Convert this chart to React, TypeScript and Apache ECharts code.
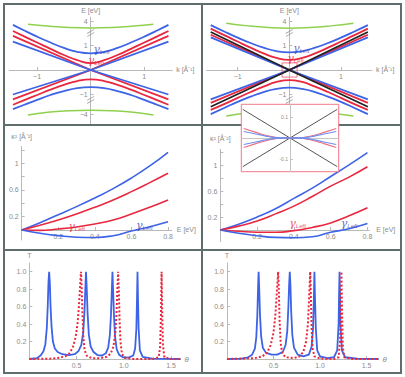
import { useEffect, useRef } from 'react';
import * as echarts from 'echarts';

// ---------- Panel 1 (top-left): E(k) ----------
const kP1 = [-1.45, -1.25, -1, -0.75, -0.5, -0.25, 0, 0.25, 0.5, 0.75, 1, 1.25, 1.45];
const p1BlueGapUp = [1.84, 1.62, 1.36, 1.12, 0.9, 0.74, 0.68, 0.74, 0.9, 1.12, 1.36, 1.62, 1.84];
const p1RedGapUp = [1.59, 1.38, 1.12, 0.86, 0.61, 0.4, 0.28, 0.4, 0.61, 0.86, 1.12, 1.38, 1.59];
const p1BlueGapDn = [-1.6, -1.43, -1.22, -1.02, -0.86, -0.74, -0.7, -0.74, -0.86, -1.02, -1.22, -1.43, -1.6];
const p1RedGapDn = [-1.42, -1.24, -1.02, -0.8, -0.61, -0.45, -0.38, -0.45, -0.61, -0.8, -1.02, -1.24, -1.42];
const kXP1 = [-1.45, 0, 1.45];
const p1RedXDesc = [1.39, 0, -1.2];
const p1RedXAsc = [-1.2, 0, 1.39];
const p1BlueXDesc = [1.16, 0, -1.0];
const p1BlueXAsc = [-1.0, 0, 1.16];
const kGreenP1 = [-1.17, -0.8, -0.4, 0, 0.4, 0.8, 1.17];
const p1GreenUp = [1.87, 1.79, 1.73, 1.71, 1.73, 1.79, 1.87];
const p1GreenDn = [-1.84, -1.72, -1.66, -1.64, -1.66, -1.72, -1.84];

// ---------- Panel 2 (top-right): E(k) with black bands ----------
const kP2 = [-1.52, -1.25, -1, -0.75, -0.5, -0.25, 0, 0.25, 0.5, 0.75, 1, 1.25, 1.52];
const p2BlueGapUp = [1.83, 1.56, 1.32, 1.1, 0.91, 0.77, 0.72, 0.77, 0.91, 1.1, 1.32, 1.56, 1.83];
const p2RedGapUp = [1.69, 1.41, 1.16, 0.91, 0.68, 0.49, 0.41, 0.49, 0.68, 0.91, 1.16, 1.41, 1.69];
const p2BlueGapDn = [-1.8, -1.54, -1.3, -1.09, -0.9, -0.77, -0.72, -0.77, -0.9, -1.09, -1.3, -1.54, -1.8];
const p2RedGapDn = [-1.63, -1.38, -1.14, -0.9, -0.68, -0.49, -0.41, -0.49, -0.68, -0.9, -1.14, -1.38, -1.63];
const kXP2 = [-1.52, 0, 1.52];
const p2BlackXDesc = [1.55, 0, -1.5];
const p2BlackXAsc = [-1.5, 0, 1.55];
const p2RedXDesc = [1.44, 0, -1.34];
const p2RedXAsc = [-1.34, 0, 1.44];
const p2BlueXDesc = [1.33, 0, -1.2];
const p2BlueXAsc = [-1.2, 0, 1.33];
const kGreenP2 = [-1.22, -0.8, -0.4, 0, 0.4, 0.8, 1.24];
const p2GreenUp = [1.91, 1.8, 1.73, 1.7, 1.73, 1.8, 1.91];
const p2GreenDn = [-1.88, -1.76, -1.68, -1.66, -1.68, -1.76, -1.88];
const p2ZoomBox = [[-0.14, 0.29], [0.15, -0.29]];

// broken-axis ticks for panels 1 and 2 (panel 2's lowest label is hidden by the inset)
const p1YTickPos = [1.98, 1, -1, -1.81];
const p1YTickText = ['4', '1', '−1', '−4'];
const p2YTickPos = [1.98, 1, -1];
const p2YTickText = ['4', '1', '−1'];
const kXTickPos = [-1, 1];
const kXTickText = ['−1', '1'];
const breakE = [1.51, -1.22];

// ---------- Inset (zoom of panel 2 centre) ----------
const insetX = [-0.95, -0.7, -0.5, -0.35, -0.2, 0, 0.2, 0.35, 0.5, 0.7, 0.95];
const insetRedDesc = [0.045, 0.027, 0.013, 0.005, 0.001, 0, -0.001, -0.005, -0.013, -0.027, -0.045];
const insetBlueDesc = [0.031, 0.019, 0.009, 0.003, 0.0005, 0, -0.0005, -0.003, -0.009, -0.019, -0.031];
const insetBlackX = [-0.97, 0.97];
const insetBlackDesc = [0.136, -0.136];
const insetYTickPos = [0.1, -0.1];
const insetYTickText = ['0.1', '-0.1'];

// ---------- Panels 3 & 4: kappa^2(E) ----------
const eK = [0, 0.1, 0.2, 0.3, 0.4, 0.5, 0.6, 0.7, 0.8];
const p3BlueUp = [0, 0.11, 0.23, 0.35, 0.48, 0.62, 0.78, 0.96, 1.165];
const p3RedUp = [0, 0.07, 0.15, 0.24, 0.34, 0.45, 0.575, 0.71, 0.85];
const p3RedLow = [0, -0.005, 0.015, 0.045, 0.09, 0.15, 0.24, 0.34, 0.45];
const p3BlueLow = [0, -0.05, -0.085, -0.108, -0.112, -0.085, -0.015, 0.05, 0.125];
const p4BlueUp = [0, 0.09, 0.2, 0.33, 0.49, 0.65, 0.83, 1.01, 1.2];
const p4RedUp = [0, 0.06, 0.14, 0.25, 0.37, 0.52, 0.68, 0.82, 0.98];
const p4RedLow = [0, -0.02, -0.035, -0.035, -0.01, 0.04, 0.11, 0.22, 0.345];
const p4BlueLow = [0, -0.05, -0.09, -0.115, -0.12, -0.105, -0.035, 0.02, 0.1];
const kXTicks = [0.2, 0.4, 0.6, 0.8];
const kYTicks = [0.2, 0.4, 0.6, 0.8, 1.0, 1.2];
const kYLabels = [0.2, 0.6, 1.0];

// ---------- Panels 5 & 6: T(theta) ----------
const p5BlueTheta = [0, 0.08, 0.12, 0.15, 0.17, 0.185, 0.195, 0.203, 0.21, 0.217, 0.225, 0.235, 0.25, 0.27, 0.3, 0.35, 0.42, 0.48, 0.52, 0.55, 0.57, 0.583, 0.592, 0.6, 0.608, 0.617, 0.63, 0.65, 0.68, 0.72, 0.77, 0.81, 0.835, 0.852, 0.864, 0.873, 0.88, 0.887, 0.896, 0.908, 0.925, 0.95, 0.99, 1.05, 1.1, 1.12, 1.133, 1.14, 1.145, 1.15, 1.157, 1.17, 1.2, 1.3, 1.6];
const p5BlueT = [0, 0.01, 0.04, 0.09, 0.17, 0.35, 0.6, 0.88, 1.0, 0.88, 0.6, 0.38, 0.2, 0.12, 0.08, 0.055, 0.045, 0.055, 0.09, 0.16, 0.3, 0.52, 0.78, 1.0, 0.8, 0.52, 0.28, 0.14, 0.08, 0.045, 0.04, 0.065, 0.13, 0.27, 0.5, 0.78, 1.0, 0.78, 0.5, 0.25, 0.11, 0.05, 0.02, 0.015, 0.04, 0.12, 0.35, 0.7, 1.0, 0.7, 0.35, 0.1, 0.025, 0.005, 0];
const p5RedTheta = [0, 0.25, 0.32, 0.38, 0.42, 0.46, 0.49, 0.51, 0.525, 0.537, 0.547, 0.555, 0.563, 0.572, 0.585, 0.61, 0.66, 0.75, 0.82, 0.86, 0.89, 0.91, 0.922, 0.932, 0.94, 0.947, 0.955, 0.965, 0.98, 1.01, 1.1, 1.3, 1.37, 1.385, 1.393, 1.4, 1.407, 1.415, 1.43, 1.5, 1.6];
const p5RedT = [0, 0.005, 0.015, 0.03, 0.06, 0.13, 0.25, 0.4, 0.6, 0.82, 1.0, 0.8, 0.5, 0.25, 0.1, 0.035, 0.01, 0.01, 0.025, 0.06, 0.14, 0.3, 0.5, 0.8, 1.0, 0.8, 0.45, 0.2, 0.06, 0.015, 0, 0, 0.02, 0.15, 0.5, 1.0, 0.5, 0.15, 0.02, 0, 0];
const p6BlueTheta = [0, 0.15, 0.22, 0.27, 0.3, 0.315, 0.326, 0.334, 0.34, 0.346, 0.355, 0.367, 0.385, 0.42, 0.48, 0.54, 0.6, 0.63, 0.648, 0.66, 0.668, 0.675, 0.682, 0.69, 0.702, 0.72, 0.76, 0.82, 0.88, 0.91, 0.925, 0.934, 0.94, 0.946, 0.955, 0.97, 1.0, 1.08, 1.15, 1.185, 1.2, 1.205, 1.21, 1.215, 1.22, 1.235, 1.27, 1.4, 1.63];
const p6BlueT = [0, 0.005, 0.015, 0.05, 0.12, 0.25, 0.5, 0.82, 1.0, 0.82, 0.5, 0.26, 0.13, 0.07, 0.05, 0.05, 0.08, 0.16, 0.32, 0.6, 0.85, 1.0, 0.85, 0.55, 0.28, 0.13, 0.05, 0.03, 0.05, 0.14, 0.35, 0.7, 1.0, 0.7, 0.35, 0.1, 0.03, 0.01, 0.02, 0.1, 0.4, 0.75, 1.0, 0.75, 0.4, 0.1, 0.02, 0.005, 0];
const p6RedTheta = [0, 0.3, 0.38, 0.43, 0.47, 0.5, 0.52, 0.535, 0.545, 0.55, 0.557, 0.565, 0.577, 0.595, 0.63, 0.72, 0.78, 0.82, 0.85, 0.87, 0.883, 0.895, 0.902, 0.91, 0.92, 0.94, 1.0, 1.15, 1.2, 1.215, 1.223, 1.23, 1.237, 1.245, 1.26, 1.35, 1.63];
const p6RedT = [0, 0.01, 0.03, 0.07, 0.16, 0.3, 0.5, 0.75, 0.92, 1.0, 0.8, 0.45, 0.18, 0.06, 0.02, 0.01, 0.03, 0.08, 0.2, 0.4, 0.7, 1.0, 0.7, 0.35, 0.12, 0.03, 0.005, 0, 0.02, 0.2, 0.55, 1.0, 0.55, 0.15, 0.02, 0, 0];
const tYTicks = [0.2, 0.4, 0.6, 0.8, 1.0];
const tXTicks = [0.5, 1.0, 1.5];

// ---------- label anchors ----------
const p1LabelBlue = [0.2, 0.84];
const p1LabelRed = [0.1, 0.37];
const p2LabelBlue = [0.23, 0.88];
const p2LabelRed = [0.12, 0.47];
const p3LabelRed = [0.3, 0.05];
const p3LabelBlue = [0.67, 0.06];
const p4LabelRed = [0.42, 0.1];
const p4LabelBlue = [0.7, 0.1];

const BLUE = '#3d63e6';
const RED = '#e8283f';
const GREEN = '#8fd14f';
const BLACK = '#222222';
const PINK = '#f07888';
const AX = '#b9b9b9';
const LBL = '#8c8c8c';
const FONT = 'Liberation Sans, Arial, sans-serif';

const pts = (xs: number[], ys: number[]) => xs.map((x, i) => [x, ys[i]]);
const neg = (ys: number[]) => ys.map((v) => -v);

function ln(i: number, data: number[][], color: string, width = 1.8, extra: any = {}) {
  return {
    type: 'line', xAxisIndex: i, yAxisIndex: i, data, symbol: 'none', showSymbol: false,
    smooth: extra.smooth ?? true, silent: true, z: extra.z ?? 2,
    lineStyle: { color, width, type: extra.dash ?? 'solid' },
    markArea: extra.markArea,
  };
}

function gammaLabel(i: number, at: number[], color: string, z = 4) {
  return {
    type: 'scatter', xAxisIndex: i, yAxisIndex: i, data: [at], symbolSize: 1, silent: true, z,
    itemStyle: { color: 'rgba(0,0,0,0)' },
    label: {
      show: true, position: 'inside', formatter: '{g|γ}{s|Left}',
      rich: {
        g: { fontFamily: 'DejaVu Serif', fontStyle: 'italic', fontSize: 11, color, lineHeight: 12 },
        s: { fontFamily: FONT, fontStyle: 'italic', fontSize: 6, color, lineHeight: 12, padding: [5, 0, 0, 0] },
      },
    },
  };
}

function breakMarks(i: number) {
  return {
    type: 'scatter', xAxisIndex: i, yAxisIndex: i, data: breakE.map((e) => [0, e]), silent: true, z: 3,
    symbol: 'path://M0,5 L7,0 L7,1.3 L0,6.3 Z M0,9 L7,4 L7,5.3 L0,10.3 Z', symbolSize: [7, 8],
    itemStyle: { color: '#9a9a9a' },
  };
}

const lookup = (pos: number[], txt: string[]) => (v: number) => {
  const j = pos.findIndex((p) => Math.abs(p - v) < 1e-6);
  return j >= 0 ? txt[j] : '';
};

type Panel = { left: number; top: number; width: number; height: number; x: [number, number]; y: [number, number] };
const panels: Panel[] = [
  { left: 9.2, top: 17.3, width: 163, height: 106.6, x: [-1.52, 1.52], y: [-2.2, 2.15] },
  { left: 206.6, top: 17.3, width: 165.4, height: 106.6, x: [-1.6, 1.6], y: [-2.2, 2.15] },
  { left: 21.7, top: 146.6, width: 150, height: 93.4, x: [0, 0.82], y: [-0.15, 1.25] },
  { left: 220.3, top: 149.4, width: 149, height: 92.2, x: [0, 0.81], y: [-0.18, 1.25] },
  { left: 29.3, top: 263, width: 151.2, height: 96, x: [0, 1.6], y: [0, 1.1] },
  { left: 227, top: 263, width: 151.6, height: 96, x: [0, 1.63], y: [0, 1.1] },
  { left: 241.3, top: 104.3, width: 97.4, height: 67.4, x: [-1, 1], y: [-0.16, 0.16] },
];

function axis(dim: 'x' | 'y', grid: number, o: any) {
  const p = panels[grid];
  const [min, max] = dim === 'x' ? p.x : p.y;
  const [omin, omax] = dim === 'x' ? p.y : p.x;
  const span = dim === 'x' ? p.height : p.width;
  // place the axis line where the other axis is zero
  const zeroShift = ((0 - omin) / (omax - omin)) * span;
  return {
    gridIndex: grid, type: 'value', min, max,
    position: dim === 'x' ? 'bottom' : 'left', offset: -zeroShift,
    name: o.name ?? '', nameLocation: 'end', nameGap: o.nameGap ?? 4,
    nameTextStyle: { color: LBL, fontSize: o.nameSize ?? 7, fontFamily: FONT, fontStyle: o.nameItalic ? 'italic' : 'normal' },
    z: o.z ?? 0,
    axisLine: { onZero: false, lineStyle: { color: o.lineColor ?? AX, width: 1 } },
    axisTick: { show: !!o.ticks, inside: true, length: o.tickLen ?? 3, customValues: o.ticks, lineStyle: { color: o.lineColor ?? AX } },
    axisLabel: {
      show: !!o.labels, customValues: o.labels, formatter: o.fmt, color: LBL,
      fontSize: o.labelSize ?? 7, fontFamily: FONT, margin: o.margin ?? 3,
    },
    splitLine: { show: false },
  };
}

function buildOption() {
  const grids = panels.map((p, i) =>
    i === 6
      ? { left: p.left, top: p.top, width: p.width, height: p.height, show: true, backgroundColor: '#ffffff', borderColor: PINK, borderWidth: 1, z: 5 }
      : { left: p.left, top: p.top, width: p.width, height: p.height },
  );
  const fmt1 = (v: number) => (Math.abs(v - 1) < 1e-6 ? '1' : String(v));
  const fmtT = (v: number) => v.toFixed(1);
  const xAxis = [
    axis('x', 0, { name: 'k [Å⁻¹]', ticks: kXTickPos, labels: kXTickPos, fmt: lookup(kXTickPos, kXTickText) }),
    axis('x', 1, { name: 'k [Å⁻¹]', ticks: kXTickPos, labels: kXTickPos, fmt: lookup(kXTickPos, kXTickText) }),
    axis('x', 2, { name: 'E [eV]', nameGap: 5, ticks: kXTicks, labels: kXTicks, fmt: (v: number) => String(v) }),
    axis('x', 3, { name: 'E [eV]', nameGap: 5, ticks: kXTicks, labels: kXTicks, fmt: (v: number) => String(v) }),
    axis('x', 4, { name: 'θ', nameItalic: true, nameSize: 8, ticks: tXTicks, labels: tXTicks, fmt: fmtT }),
    axis('x', 5, { name: 'θ', nameItalic: true, nameSize: 8, ticks: tXTicks, labels: tXTicks, fmt: fmtT }),
    axis('x', 6, { lineColor: '#c4c4c4', z: 6 }),
  ];
  const yAxis = [
    axis('y', 0, { name: 'E [eV]', nameGap: 3, ticks: p1YTickPos, labels: p1YTickPos, fmt: lookup(p1YTickPos, p1YTickText) }),
    axis('y', 1, { name: 'E [eV]', nameGap: 3, ticks: p2YTickPos, labels: p2YTickPos, fmt: lookup(p2YTickPos, p2YTickText) }),
    axis('y', 2, { name: 'κ² [Å⁻²]', nameGap: 7, ticks: kYTicks, labels: kYLabels, fmt: fmt1 }),
    axis('y', 3, { name: 'κ² [Å⁻²]', nameGap: 7, ticks: kYTicks, labels: kYLabels, fmt: fmt1 }),
    axis('y', 4, { name: 'T', nameGap: 4, ticks: tYTicks, labels: tYTicks, fmt: fmtT }),
    axis('y', 5, { name: 'T', nameGap: 4, ticks: tYTicks, labels: tYTicks, fmt: fmtT }),
    axis('y', 6, { lineColor: '#c4c4c4', z: 6, ticks: insetYTickPos, labels: insetYTickPos, fmt: lookup(insetYTickPos, insetYTickText), labelSize: 5, margin: 2 }),
  ];

  const series: any[] = [
    // panel 1
    ln(0, pts(kGreenP1, p1GreenUp), GREEN, 1.5),
    ln(0, pts(kGreenP1, p1GreenDn), GREEN, 1.5),
    ln(0, pts(kP1, p1BlueGapUp), BLUE),
    ln(0, pts(kP1, p1RedGapUp), RED),
    ln(0, pts(kP1, p1BlueGapDn), BLUE),
    ln(0, pts(kP1, p1RedGapDn), RED),
    ln(0, pts(kXP1, p1RedXDesc), RED, 1.8, { smooth: false }),
    ln(0, pts(kXP1, p1RedXAsc), RED, 1.8, { smooth: false }),
    ln(0, pts(kXP1, p1BlueXDesc), BLUE, 1.8, { smooth: false }),
    ln(0, pts(kXP1, p1BlueXAsc), BLUE, 1.8, { smooth: false }),
    breakMarks(0),
    gammaLabel(0, p1LabelBlue, '#3b44b8'),
    gammaLabel(0, p1LabelRed, RED),
    // panel 2
    ln(1, pts(kGreenP2, p2GreenUp), GREEN, 1.5),
    ln(1, pts(kGreenP2, p2GreenDn), GREEN, 1.5),
    ln(1, pts(kP2, p2BlueGapUp), BLUE),
    ln(1, pts(kP2, p2RedGapUp), RED),
    ln(1, pts(kP2, p2BlueGapDn), BLUE),
    ln(1, pts(kP2, p2RedGapDn), RED),
    ln(1, pts(kXP2, p2RedXDesc), RED, 1.8, { smooth: false }),
    ln(1, pts(kXP2, p2RedXAsc), RED, 1.8, { smooth: false }),
    ln(1, pts(kXP2, p2BlueXDesc), BLUE, 1.8, { smooth: false }),
    ln(1, pts(kXP2, p2BlueXAsc), BLUE, 1.8, { smooth: false }),
    ln(1, pts(kXP2, p2BlackXDesc), BLACK, 1.8, { smooth: false }),
    ln(1, pts(kXP2, p2BlackXAsc), BLACK, 1.8, {
      smooth: false,
      markArea: {
        silent: true,
        itemStyle: { color: 'rgba(0,0,0,0)', borderColor: PINK, borderWidth: 1 },
        data: [[{ coord: p2ZoomBox[0] }, { coord: p2ZoomBox[1] }]],
      },
    }),
    breakMarks(1),
    gammaLabel(1, p2LabelBlue, '#3b44b8'),
    gammaLabel(1, p2LabelRed, RED),
    // panel 3
    ln(2, pts(eK, p3BlueUp), BLUE, 1.6),
    ln(2, pts(eK, p3RedUp), RED, 1.6),
    ln(2, pts(eK, p3RedLow), RED, 1.6),
    ln(2, pts(eK, p3BlueLow), BLUE, 1.6),
    gammaLabel(2, p3LabelRed, RED),
    gammaLabel(2, p3LabelBlue, '#3b44b8'),
    // panel 4
    ln(3, pts(eK, p4BlueUp), BLUE, 1.6),
    ln(3, pts(eK, p4RedUp), RED, 1.6),
    ln(3, pts(eK, p4RedLow), RED, 1.6),
    ln(3, pts(eK, p4BlueLow), BLUE, 1.6),
    gammaLabel(3, p4LabelRed, RED),
    gammaLabel(3, p4LabelBlue, '#3b44b8'),
    // panel 5
    ln(4, pts(p5BlueTheta, p5BlueT), BLUE, 1.8, { smooth: false }),
    ln(4, pts(p5RedTheta, p5RedT), RED, 2, { smooth: false, dash: [2, 2] }),
    // panel 6
    ln(5, pts(p6BlueTheta, p6BlueT), BLUE, 1.8, { smooth: false }),
    ln(5, pts(p6RedTheta, p6RedT), RED, 2, { smooth: false, dash: [2, 2] }),
    // inset
    ln(6, pts(insetBlackX, insetBlackDesc), '#555555', 1, { smooth: false, z: 7 }),
    ln(6, pts(insetBlackX, neg(insetBlackDesc)), '#555555', 1, { smooth: false, z: 7 }),
    ln(6, pts(insetX, insetRedDesc), '#ee7080', 1.2, { z: 7 }),
    ln(6, pts(insetX, neg(insetRedDesc)), '#ee7080', 1.2, { z: 7 }),
    ln(6, pts(insetX, insetBlueDesc), '#7090ee', 1.2, { z: 7 }),
    ln(6, pts(insetX, neg(insetBlueDesc)), '#7090ee', 1.2, { z: 7 }),
  ];

  const B = '#5f6d6d';
  const graphic = [
    { type: 'rect', z: 1, shape: { x: 4, y: 4, width: 397, height: 369 }, style: { fill: 'none', stroke: B, lineWidth: 2 } },
    { type: 'line', z: 1, shape: { x1: 202, y1: 4, x2: 202, y2: 373 }, style: { stroke: B, lineWidth: 2 } },
    { type: 'line', z: 1, shape: { x1: 4, y1: 125, x2: 401, y2: 125 }, style: { stroke: B, lineWidth: 2 } },
    { type: 'line', z: 1, shape: { x1: 4, y1: 250, x2: 401, y2: 250 }, style: { stroke: B, lineWidth: 2 } },
  ];

  return { animation: false, backgroundColor: '#ffffff', grid: grids, xAxis, yAxis, series, graphic };
}

export default function App() {
  const ref = useRef<HTMLDivElement>(null);
  useEffect(() => {
    const chart = echarts.init(ref.current!, null, { renderer: 'svg' });
    chart.setOption(buildOption() as any);
    return () => chart.dispose();
  }, []);
  return <div ref={ref} style={{ position: 'fixed', left: 0, top: 0, width: 405, height: 377, background: '#fff' }} />;
}
